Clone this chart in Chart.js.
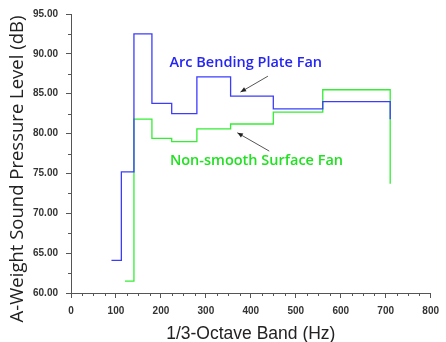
<!DOCTYPE html>
<html>
<head>
<meta charset="utf-8">
<script src="https://cdn.jsdelivr.net/npm/chart.js@4/dist/chart.umd.min.js"></script>
<style>
html,body{margin:0;padding:0;background:#fff;}
#wrap{width:446px;height:342px;position:relative;}
</style>
</head>
<body>
<div id="wrap"><canvas id="c" width="446" height="342"></canvas></div>
<script>
// Band edges (Hz) where the level steps, and levels (dB) of each band
const arcEdges = [90, 112, 140, 180, 224, 280, 355, 450, 560, 710, 710];
const arcLevels = [64.1, 75.2, 92.5, 83.8, 82.5, 87.1, 84.7, 83.1, 84.0, 84.0, 81.8];
const nsEdges = [120, 140, 180, 224, 280, 355, 450, 560, 710, 710];
const nsLevels = [61.5, 81.8, 79.4, 79.0, 80.6, 81.2, 82.7, 85.5, 85.5, 73.7];
const seriesNames = ['Arc Bending Plate Fan', 'Non-smooth Surface Fan'];
const xTicks = [0, 100, 200, 300, 400, 500, 600, 700, 800];
const yTicks = [60, 65, 70, 75, 80, 85, 90, 95];
const xTitle = '1/3-Octave Band (Hz)';
const yTitle = 'A-Weight Sound Pressure Level (dB)';
// annotation anchors in data units: [textX, textY, arrowTailX, arrowTailY, arrowHeadX, arrowHeadY]
const arcNote = [219, 88.3, 438, 87.2, 377, 85.2];
const nsNote = [220, 76.0, 441, 77.8, 370, 80.1];

const BLUE = '#3c3cff', GREEN = '#33ee33';
const BLUE_T = '#2525f5', GREEN_T = '#22e022';

function pts(xs, ys){ return xs.map((x,i)=>({x:x, y:ys[i]})); }

const extras = {
  id:'extras',
  afterDraw(chart){
    const ctx = chart.ctx, xs = chart.scales.x, ys = chart.scales.y;
    ctx.save();
    ctx.strokeStyle = '#555';
    ctx.lineWidth = 1;
    // minor ticks
    ctx.beginPath();
    for (let v = 0; v <= 800; v += 25) {
      if (v % 100 === 0) continue;
      const px = Math.round(xs.getPixelForValue(v)) + 0.5;
      ctx.moveTo(px, ys.bottom); ctx.lineTo(px, ys.bottom + 3);
    }
    for (let v = 62.5; v < 95; v += 5) {
      const py = Math.round(ys.getPixelForValue(v)) + 0.5;
      ctx.moveTo(xs.left, py); ctx.lineTo(xs.left - 3, py);
    }
    ctx.stroke();
    // axis titles
    ctx.fillStyle = '#222';
    ctx.font = '17.5px "Liberation Sans"';
    ctx.textAlign = 'center'; ctx.textBaseline = 'alphabetic';
    ctx.fillText(xTitle, (xs.left + xs.right) / 2, 339);
    ctx.save();
    ctx.translate(23, 169);
    ctx.rotate(-Math.PI / 2);
    ctx.font = '18.5px "Open Sans"';
    ctx.fillText(yTitle, 0, 0);
    ctx.restore();
    // annotations
    const notes = [[arcNote, seriesNames[0], BLUE_T], [nsNote, seriesNames[1], GREEN_T]];
    notes.forEach(([n, label, col]) => {
      ctx.fillStyle = col;
      ctx.font = '600 14.5px "Open Sans"';
      ctx.textAlign = 'left'; ctx.textBaseline = 'alphabetic';
      ctx.fillText(label, xs.getPixelForValue(n[0]), ys.getPixelForValue(n[1]));
      const x1 = xs.getPixelForValue(n[2]), y1 = ys.getPixelForValue(n[3]);
      const x2 = xs.getPixelForValue(n[4]), y2 = ys.getPixelForValue(n[5]);
      ctx.strokeStyle = '#555'; ctx.lineWidth = 1;
      ctx.beginPath(); ctx.moveTo(x1, y1); ctx.lineTo(x2, y2); ctx.stroke();
      const a = Math.atan2(y2 - y1, x2 - x1), L = 6, w = 0.4;
      ctx.fillStyle = '#222';
      ctx.beginPath();
      ctx.moveTo(x2, y2);
      ctx.lineTo(x2 - L*Math.cos(a - w), y2 - L*Math.sin(a - w));
      ctx.lineTo(x2 - L*Math.cos(a + w), y2 - L*Math.sin(a + w));
      ctx.closePath(); ctx.fill();
    });
    ctx.restore();
  }
};

new Chart(document.getElementById('c'), {
  type: 'scatter',
  data: {
    datasets: [
      { label: seriesNames[0], data: pts(arcEdges, arcLevels), showLine: true, stepped: 'before',
        borderColor: BLUE, borderWidth: 1.3, pointRadius: 0, fill: false },
      { label: seriesNames[1], data: pts(nsEdges, nsLevels), showLine: true, stepped: 'before',
        borderColor: GREEN, borderWidth: 1.3, pointRadius: 0, fill: false }
    ]
  },
  options: {
    responsive: false, animation: false,
    layout: { padding: { top: 12, right: 8, left: 0, bottom: 0 } },
    plugins: { legend: { display: false }, tooltip: { enabled: false } },
    scales: {
      x: {
        type: 'linear', min: xTicks[0], max: xTicks[xTicks.length-1],
        afterBuildTicks: s => { s.ticks = xTicks.map(v => ({value: v})); },
        afterFit: s => { s.height = 49; },
        grid: { display: true, drawOnChartArea: false, tickLength: 5, color: '#555' },
        border: { display: true, color: '#555' },
        ticks: { color: '#333', font: { family: 'Liberation Sans', size: 10, weight: 'bold' }, padding: 7, maxRotation: 0 },
        title: { display: false }
      },
      y: {
        type: 'linear', min: yTicks[0], max: yTicks[yTicks.length-1],
        afterBuildTicks: s => { s.ticks = yTicks.map(v => ({value: v})); },
        afterFit: s => { s.width = 71; },
        grid: { display: true, drawOnChartArea: false, tickLength: 5, color: '#555' },
        border: { display: true, color: '#555' },
        ticks: { color: '#333', font: { family: 'Liberation Sans', size: 10, weight: 'bold' }, padding: 8,
          callback: v => Number(v).toFixed(2) },
        title: { display: false }
      }
    }
  },
  plugins: [extras]
});
</script>
</body>
</html>
